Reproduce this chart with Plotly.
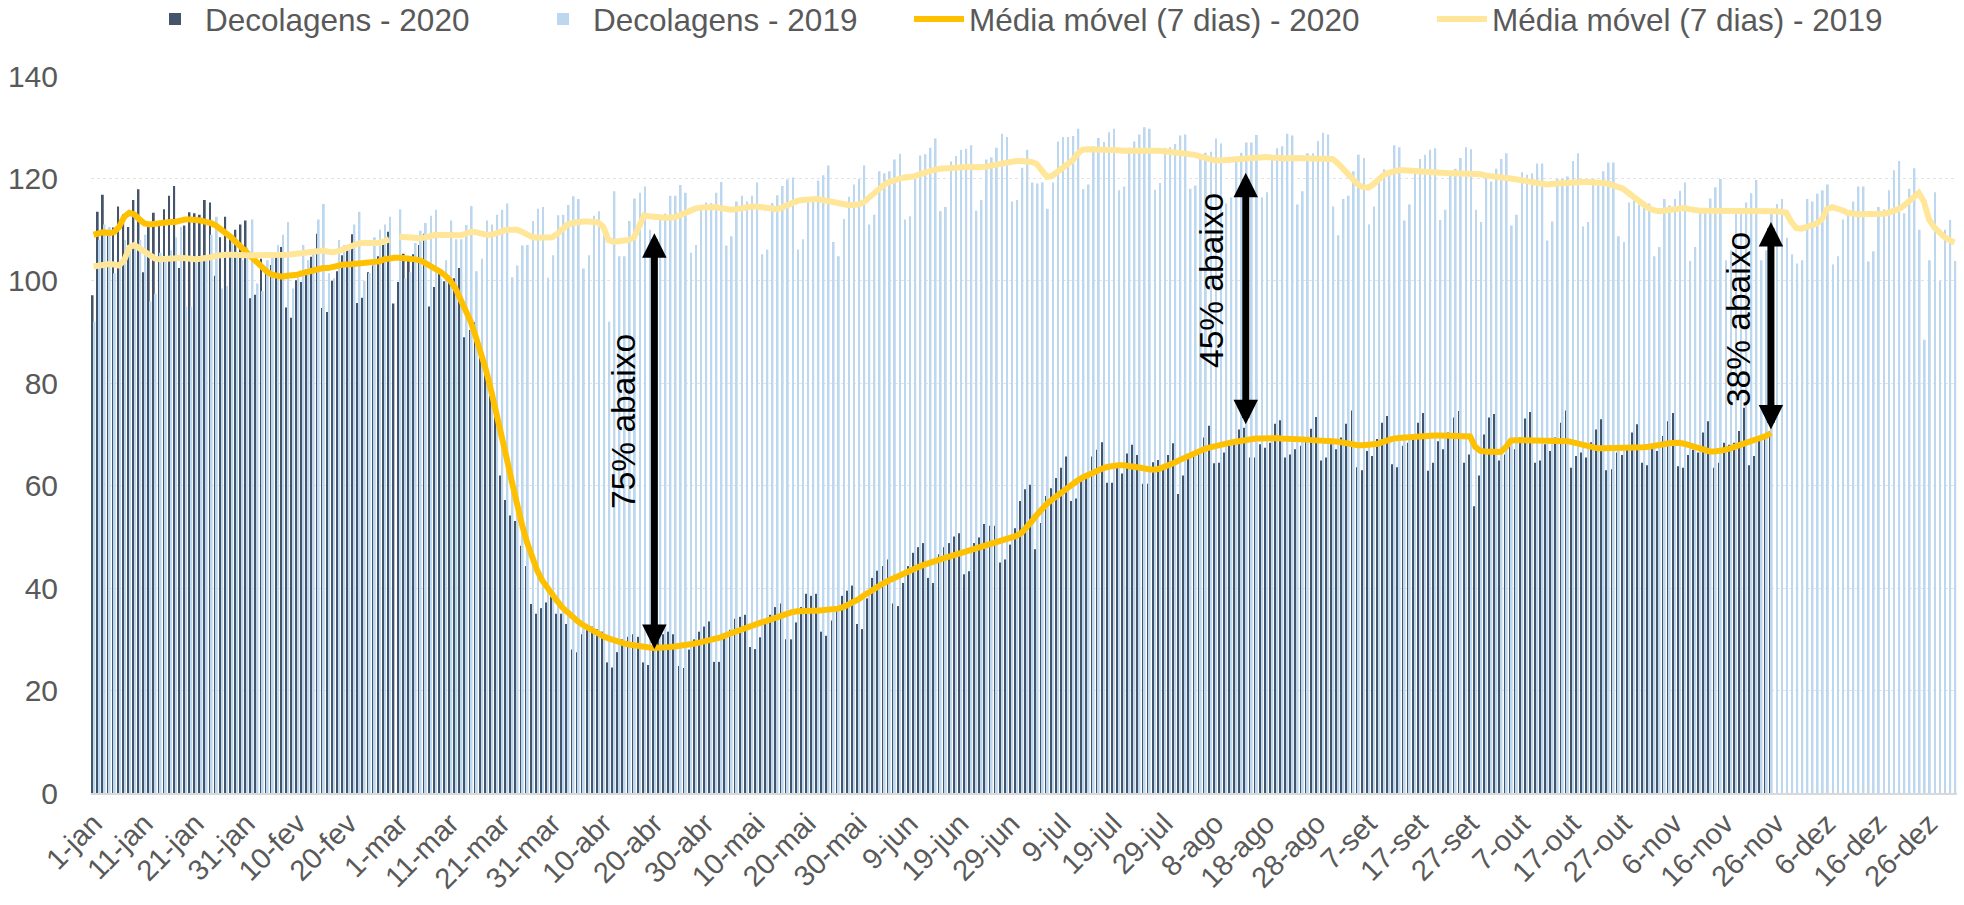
import plotly.graph_objects as go

# ---------------- data ----------------
tick_days = list(range(0, 366, 10))
tick_labels = ["1-jan", "11-jan", "21-jan", "31-jan", "10-fev", "20-fev", "1-mar", "11-mar",
               "21-mar", "31-mar", "10-abr", "20-abr", "30-abr", "10-mai", "20-mai", "30-mai",
               "9-jun", "19-jun", "29-jun", "9-jul", "19-jul", "29-jul", "8-ago", "18-ago",
               "28-ago", "7-set", "17-set", "27-set", "7-out", "17-out", "27-out", "6-nov",
               "16-nov", "26-nov", "6-dez", "16-dez", "26-dez"]

decolagens_2020 = [
    97.2, 113.5, 116.8, 110, 110.4, 114.5, 113,
    110.5, 115.8, 117.9, 101.7, 110.5, 113.3, 111.5,
    114, 116.6, 118.5, 102.5, 110.8, 113.4, 113.2,
    112.9, 115.8, 115.3, 101, 108.5, 112.5, 108.5,
    110, 111, 111.8, 96.6, 97.3, 104.3, 102.3,
    103.1, 105, 106.6, 94.8, 92.8, 100.1, 99.8,
    102.2, 104.7, 109.2, 94.7, 93.9, 100, 101.9,
    105, 106, 109.1, 95.7, 96.7, 101.7, 103,
    104.8, 107, 109.6, 95.6, 99.8, 105.3, 104.5,
    105.2, 107, 109.2, 95, 98.8, 101.8, 99.9,
    101, 100.5, 102.5, 89, 90.4, 91.9, 86,
    81.6, 77.5, 75.3, 62, 57.2, 54.2, 53.1,
    48.3, 44.3, 36.9, 35, 36.1, 37.2, 38.3,
    35, 35, 33, 28, 27.5, 31, 32,
    32.5, 32, 31.5, 25.5, 24.5, 27.5, 30,
    30.5, 31, 30.5, 25.5, 25, 29, 30,
    31, 31.5, 31, 24.8, 24.4, 28, 30,
    31.5, 32.5, 33.5, 25.6, 25.6, 30.7, 31.9,
    34, 34.4, 34.8, 28.5, 28.1, 30.4, 33,
    34.8, 36.3, 37, 30, 30, 33.3, 36.3,
    38.9, 38.5, 38.9, 31.5, 30.7, 33.7, 36,
    38.5, 39.5, 40.5, 33, 32, 38, 42,
    43.4, 44.3, 45.6, 37, 36.5, 41, 44.3,
    46.9, 48, 48.8, 42, 41, 46.6, 48,
    48.8, 50.1, 50.7, 42.7, 43.3, 48.8, 49.9,
    52.5, 52.2, 52.2, 45, 45.6, 48.5, 51.7,
    57, 59.3, 60.2, 47.6, 52.7, 58, 59.5,
    61.5, 63.5, 65.7, 57, 57.5, 61.7, 62,
    65.7, 67, 68.5, 60.6, 60.6, 64, 62.4,
    66.3, 68, 66, 60.4, 60.4, 64.6, 65,
    63.5, 66, 68.3, 58.4, 62, 66, 65.9,
    66.8, 69.4, 71.7, 64.4, 64.5, 66.5, 67.8,
    68.4, 71, 71.3, 65.5, 65.5, 68.1, 67.4,
    68.4, 72.1, 72.8, 65.5, 66.1, 67.1, 67.8,
    68.7, 71.1, 73.4, 64.9, 65.5, 68.1, 67.1,
    69.4, 72.1, 74.7, 63.6, 63, 66.8, 65.8,
    69.1, 72.3, 73.6, 64.2, 63.6, 67.8, 68.4,
    70, 72.3, 74.2, 62.9, 64.5, 68.7, 67.1,
    70.4, 73.3, 74.6, 64.5, 66.1, 56, 62,
    70, 73.3, 74, 64.9, 66.1, 67.8, 67.1,
    69.4, 73.1, 74.4, 64.5, 64.9, 68.1, 66.8,
    69.4, 72.3, 74.7, 63.5, 65.8, 66.5, 65.5,
    68.5, 71, 73, 63, 63.2, 66.5, 66,
    67.4, 70.4, 72, 64.5, 64, 67.4, 66.8,
    69.7, 72.6, 74.2, 63.8, 63.5, 66, 67,
    66.5, 70.4, 72.6, 63.5, 64.5, 68.4, 68,
    68.4, 70.7, 75.2, 64, 65.8, 69.4, 70,
    70.7,
]

decolagens_2019 = [
    92, 108, 111, 110.5, 101.5, 103, 108,
    107, 106.5, 108, 109, 96, 97.5, 105.5,
    104, 106, 108.5, 110.5, 95, 95, 104.5,
    104.5, 105, 109, 112.5, 98.5, 99, 109,
    104.5, 104, 106.5, 112, 99.5, 98, 104,
    104.5, 107, 109, 111.5, 98.5, 100.5, 107,
    104, 105.5, 112, 115, 101.5, 100.5, 108,
    107, 107, 111, 113.5, 100, 101.5, 108.5,
    110, 111, 112.5,
    None,
    114, 100.5, 101.7, 107.4, 109.8, 111.3, 112.7,
    113.9, 100.5, 104, 111.8, 108.1, 108.1, 110.9,
    114.6, 101.9, 104.3, 111.8, 111, 112.9, 113.9,
    115.1, 100.7, 103, 106.9, 107, 111.7, 114.1,
    114.4, 100.6, 105, 112.8, 112.9, 114.8, 116.5,
    116, 102.4, 105, 112.7, 113.6, 110, 92,
    117.5, 104.8, 104.8, 111.7, 116.1, 117.2, 118.4,
    110, 106, 112, 113.1, 116.6, 116.6, 118.7,
    117.2, 105.5, 107, 114, 115.3, 115.2, 117.2,
    119.3, 106.9, 108.7, 115.5, 116.6, 115.5, 116.6,
    119.2, 105.2, 106.1, 115.2, 116.7, 118.5, 119.8,
    120.2, 106.1, 108.1, 116.3, 116.4, 119.6, 120.6,
    122.5, 107.6, 104.8, 112.1, 116.4, 118.8, 119.9,
    122.5, 111, 112.9, 121.4, 121, 121.4, 123.7,
    124.8, 112, 112.6, 120.2, 124.5, 124.7, 126,
    127.8, 113.6, 114.4, 123.3, 124.4, 125.6, 125.8,
    126.5, 113.7, 115.8, 123.7, 124.1, 126, 128.7,
    128.1, 115.5, 115.8, 122.1, 125.6, 119.2, 119,
    119.2, 114.1, 119.2, 127.2, 128.1, 128.1, 128.3,
    129.7, 117.9, 118.8, 126.3, 127.9, 127.1, 129,
    129.7, 117.7, 118.4, 126, 127.2, 128.6, 130,
    129.7, 117.8, 119.1, 126, 126.1, 126.7, 128.4,
    128.6, 118, 118.6, 124.7, 125, 125.2, 127.8,
    126.8, 115.1, 116.3, 124, 125, 127, 127,
    128.5, 116.3, 117.3, 124.4, 125.9, 126.3, 128.7,
    128.4, 114.9, 117.5, 124.9, 124.9, 127.3, 128.9,
    128.6, 114.5, 108.9, 116, 116.6, 121.4, 124.6,
    124, 111, 114.5, 119.4, 121.8, 121.2, 126.5,
    126.1, 111.8, 114.9, 121.4, 123.8, 124.6, 125.6,
    125.9, 111.9, 113.9, 121.4, 121.9, 124, 126.1,
    125.7, 113.9, 111.5, 120.5, 119.4, 121.9, 123.8,
    124.9, 110.8, 112.9, 121.2, 120.7, 121, 122.9,
    122.9, 107.9, 111.6, 119.9, 119.9, 120.4, 123.4,
    124.9, 110.6, 111.5, 119.9, 119.7, 121.4, 123.1,
    123.1, 108.7, 107.6, 115.3, 115.7, 114.9, 115.5,
    115.1, 104.8, 106.6, 116, 114.7, 116, 117.6,
    119.2, 103.9, 106.6, 114.2, 114, 116.1, 118.3,
    119.9, 104, 106, 113.9, 114, 115.3, 117.1,
    119.7, 104, 106, 114, 115, 116, 108.4,
    105.2, 103.4, 104, 116, 115.5, 117, 117.7,
    118.8, 103.2, 104.8, 112, 113.7, 115.5, 118.4,
    118.4, 103.8, 105.8, 114.4, 114, 117.7, 121.6,
    123.4, 113.2, 118, 122, 110, 88.5, 104,
    117.3, 100, 110, 111.9, 103.9,
]

media_movel_2020 = [
    109, 109.3, 109.5, 109.3, 109.5, 110.5, 112.5, 113.3, 113, 112,
    111.2, 111, 111.2, 111.3, 111.4, 111.5, 111.5, 111.8, 112, 112,
    112, 111.8, 111.5, 111.3, 110.8, 110, 109.5, 108.5, 107.5, 106.5,
    105.5, 104.5, 103.5, 102.5, 101.8, 101.2, 101, 100.8, 101, 101,
    101.2, 101.5, 101.8, 102, 102.3, 102.5, 102.5, 102.8, 103, 103.2,
    103.2, 103.3, 103.3, 103.3, 103.5, 103.5, 103.8, 104.2, 104.4, 104.5,
    104.5, 104.5, 104.3, 104.2, 104, 103.5, 103, 102.5, 101.8, 101,
    100, 98.5, 96.5, 94.5, 92, 89, 86, 82.5, 78.5, 74.5,
    70, 65.5, 61, 56.5, 52.5, 49, 46, 43.5, 41.5, 40,
    38.6, 37.4, 36.2, 35.2, 34.3, 33.5, 32.8, 32.2, 31.6, 31,
    30.6, 30.2, 29.8, 29.5, 29.2, 29, 28.8, 28.6, 28.5, 28.4,
    28.3, 28.3, 28.4, 28.5, 28.6, 28.7, 28.8, 29, 29.2, 29.4,
    29.6, 29.8, 30.1, 30.4, 30.8, 31.2, 31.6, 32, 32.3, 32.6,
    33, 33.3, 33.6, 34, 34.3, 34.6, 35, 35.3, 35.5, 35.6,
    35.6, 35.6, 35.6, 35.7, 35.8, 35.8, 36, 36.3, 36.7, 37.2,
    37.8, 38.5, 39.2, 39.9, 40.5, 41, 41.5, 42, 42.5, 43,
    43.4, 43.8, 44.2, 44.6, 45, 45.3, 45.6, 45.9, 46.2, 46.5,
    46.8, 47.1, 47.4, 47.7, 48, 48.3, 48.6, 48.9, 49.2, 49.5,
    49.8, 50.2, 50.8, 51.8, 53, 54.3, 55.5, 56.5, 57.3, 58.1,
    58.9, 59.7, 60.4, 61, 61.6, 62.1, 62.6, 63, 63.4, 63.7,
    63.9, 64, 64, 63.9, 63.8, 63.6, 63.4, 63.2, 63.1, 63.3,
    63.6, 64, 64.5, 65, 65.5, 66, 66.4, 66.8, 67.2, 67.5,
    67.8, 68, 68.2, 68.4, 68.6, 68.8, 69, 69.1, 69.2, 69.2,
    69.3, 69.3, 69.3, 69.2, 69.2, 69.1, 69.1, 69, 69, 68.9,
    68.9, 68.8, 68.8, 68.7, 68.6, 68.4, 68.1, 67.9, 67.9, 67.9,
    68, 68, 68.2, 68.6, 69, 69.2, 69.3, 69.4, 69.5, 69.6,
    69.6, 69.7, 69.7, 69.8, 69.8, 69.8, 69.8, 69.8, 69.8, 69.8,
    69.6, 67.6, 66.8, 66.7, 66.7, 66.6, 66.6, 67.5, 68.8, 68.9,
    68.9, 68.9, 68.9, 68.9, 68.9, 68.9, 68.9, 68.9, 68.8, 68.7,
    68.5, 68.2, 67.9, 67.6, 67.4, 67.3, 67.3, 67.3, 67.3, 67.3,
    67.3, 67.3, 67.3, 67.4, 67.5, 67.6, 67.7, 67.9, 68.1, 68.3,
    68.4, 68.4, 68.2, 67.9, 67.5, 67.1, 66.8, 66.7, 66.7, 66.8,
    67, 67.3, 67.6, 67.9, 68.2, 68.5, 68.8, 69.2, 69.7, 70.3,
]

media_movel_2019 = [
    102.8, 103, 103.2, 103.3, 103.2, 103, 104, 106.5, 107, 106.3,
    105.5, 104.8, 104.4, 104.2, 104.2, 104.3, 104.4, 104.5, 104.4, 104.2,
    104.2, 104.3, 104.4, 104.6, 104.9, 105.1, 105.1, 105.1, 105, 105,
    105, 105, 105, 104.9, 104.9, 105, 105, 105, 105.1, 105.2,
    105.3, 105.5, 105.7, 105.9, 106, 105.9, 105.7, 105.6, 105.8, 106.2,
    106.6, 107, 107.3, 107.4, 107.4, 107.3, 107.4, 107.7, 108.1, None,
    108.6, 108.6, 108.5, 108.4, 108.3, 108.4, 108.7, 109, 109, 108.9,
    108.8, 108.8, 108.9, 109.2, 109.6, 109.5, 109.2, 109, 109, 109.2,
    109.6, 110, 110.1, 110, 109.6, 109, 108.6, 108.4, 108.4, 108.4,
    108.5, 109.2, 110.3, 111, 111.3, 111.5, 111.6, 111.6, 111.6, 111.4,
    110.5, 108, 107.6, 107.8, 107.9, 108, 108.5, 110.5, 112.8, 112.6,
    112.4, 112.4, 112.3, 112.3, 112.4, 112.8, 113.3, 113.8, 114.1, 114.3,
    114.4, 114.4, 114.4, 114.2, 114, 113.9, 114, 114.2, 114.4, 114.5,
    114.5, 114.4, 114.2, 114, 114, 114.3, 114.8, 115.3, 115.6, 115.8,
    115.9, 116, 116, 115.8, 115.6, 115.3, 115, 114.9, 114.8, 114.8,
    114.9, 115.3, 116.2, 117.2, 118, 118.7, 119.3, 119.7, 120, 120.2,
    120.3, 120.4, 120.8, 121.2, 121.5, 121.7, 121.9, 122, 122.1, 122.2,
    122.3, 122.3, 122.3, 122.2, 122.2, 122.3, 122.5, 122.7, 123, 123.2,
    123.3, 123.4, 123.4, 123.4, 123.2, 122.8, 121.5, 120.3, 120.5, 121.2,
    121.8, 122.5, 123.5, 124.8, 125.6, 125.7, 125.7, 125.6, 125.6, 125.5,
    125.5, 125.5, 125.4, 125.4, 125.4, 125.5, 125.6, 125.6, 125.5, 125.4,
    125.3, 125.2, 125.1, 125, 124.9, 124.8, 124.6, 124.3, 124, 123.7,
    123.5, 123.5, 123.6, 123.7, 123.8, 123.9, 124, 124.1, 124.2, 124.2,
    124.2, 124.1, 124, 123.9, 123.9, 124, 124, 124, 124, 124,
    124, 123.8, 123.8, 123.8, 123, 122, 120.8, 119.7, 118.8, 118.3,
    118.2, 118.8, 119.8, 120.6, 121.1, 121.4, 121.6, 121.6, 121.6, 121.5,
    121.4, 121.3, 121.2, 121.1, 121.1, 121, 121, 121, 121, 121,
    121, 121, 120.8, 120.6, 120.4, 120.3, 120.2, 120.1, 120, 119.8,
    119.7, 119.5, 119.3, 119.1, 118.8, 118.8, 118.9, 119, 119.1, 119.2,
    119.2, 119.2, 119.3, 119.3, 119.3, 119.2, 119.1, 119, 118.7, 118.2,
    118, 117.2, 116.5, 115.5, 114.8, 114.2, 113.8, 113.6, 113.7, 113.9,
    114, 114.1, 114.2, 114, 113.8, 113.7, 113.7, 113.7, 113.7, 113.7,
    113.6, 113.6, 113.6, 113.7, 113.8, 113.8, 113.7, 113.6, 113.6, 113.6,
    113.6, 113.5, 113.3, 111.5, 110.3, 110.2, 110.5, 111, 111.2, 112,
    114, 114.4, 114.2, 113.8, 113.3, 113, 113, 113, 113, 113,
    113, 113.1, 113.3, 113.6, 114, 114.6, 115.4, 116.5, 117.2, 115.5,
    112, 110.5, 109.5, 108.6, 108, 107.5,
]

# gap annotations (day index, 2020 level, 2019 level, label)
gap_days = [110, 226, 329]
gap_low = [28.1, 72.0, 71.0]
gap_high = [109.6, 121.4, 111.8]
gap_labels = ["75% abaixo", "45% abaixo", "38% abaixo"]
gap_label_days = [103.9, 219.4, 322.6]
gap_label_vals = [72.5, 100.0, 92.4]

# ---------------- figure ----------------
days_2020 = list(range(len(decolagens_2020)))
days_2019 = list(range(len(decolagens_2019)))
ma_days_2020 = list(range(len(media_movel_2020)))
ma_days_2019 = list(range(len(media_movel_2019)))

FONT = "Liberation Sans, Arial, sans-serif"
GREY = "#595959"

fig = go.Figure()
fig.add_trace(go.Bar(x=days_2020, y=decolagens_2020, name="Decolagens - 2020",
                     marker=dict(color="#44546A", line=dict(width=0)), legend="legend",
                     showlegend=True))
fig.add_trace(go.Bar(x=days_2019, y=decolagens_2019, name="Decolagens - 2019",
                     marker=dict(color="#BDD7EE", line=dict(width=0)), legend="legend2",
                     showlegend=True))
fig.add_trace(go.Scatter(x=ma_days_2020, y=media_movel_2020, mode="lines",
                         name="Média móvel (7 dias) - 2020",
                         line=dict(color="#FFC000", width=6), legend="legend3",
                         showlegend=True))
fig.add_trace(go.Scatter(x=ma_days_2019, y=media_movel_2019, mode="lines",
                         name="Média móvel (7 dias) - 2019",
                         line=dict(color="#FFE699", width=6), legend="legend4",
                         showlegend=True))

for d, lo, hi in zip(gap_days, gap_low, gap_high):
    fig.add_annotation(x=d, y=lo, ax=d, ay=hi, xref="x", yref="y", axref="x", ayref="y",
                       text="", showarrow=True, arrowside="end+start",
                       arrowhead=2, startarrowhead=2, arrowsize=0.7, startarrowsize=0.7,
                       arrowwidth=7, arrowcolor="black", standoff=0, startstandoff=0)
for d, v, t in zip(gap_label_days, gap_label_vals, gap_labels):
    fig.add_annotation(x=d, y=v, xref="x", yref="y", text=t, showarrow=False,
                       textangle=-90, xanchor="center", yanchor="middle",
                       font=dict(family=FONT, size=33.5, color="black"))

leg_common = dict(orientation="h", yanchor="middle", y=1.0795, xanchor="left",
                  bgcolor="rgba(0,0,0,0)", borderwidth=0, visible=True, itemwidth=50,
                  font=dict(family=FONT, size=31.5, color=GREY))
W, H = 1964, 905
L, R, T, B = 91, 7, 76, 112
pw = W - L - R


def lx(px):
    return (px - L) / pw


fig.update_layout(
    width=W, height=H,
    showlegend=True,
    margin=dict(l=L, r=R, t=T, b=B, autoexpand=False),
    paper_bgcolor="white", plot_bgcolor="white",
    barmode="group", bargap=0.3, bargroupgap=0,
    font=dict(family=FONT, color=GREY),
    legend=dict(leg_common, x=lx(145)),
    legend2=dict(leg_common, x=lx(533)),
    legend3=dict(leg_common, x=lx(909)),
    legend4=dict(leg_common, x=lx(1432)),
    xaxis=dict(range=[-0.5, 365.5], tickmode="array", tickvals=tick_days, ticktext=tick_labels,
               tickangle=-45, tickfont=dict(family=FONT, size=29, color=GREY),
               showgrid=False, zeroline=False, showline=True, linecolor="#D9D9D9", linewidth=2,
               ticks=""),
    yaxis=dict(range=[0, 140], dtick=20, tickfont=dict(family=FONT, size=30, color=GREY),
               showgrid=True, gridcolor="#E3E3E3", gridwidth=1, griddash="dot",
               zeroline=False, showline=False, ticks="outside", ticklen=26,
               tickcolor="rgba(0,0,0,0)"),
)

fig.write_html("out.html", config={"displayModeBar": False},
               post_script="document.body.style.margin='0';")
